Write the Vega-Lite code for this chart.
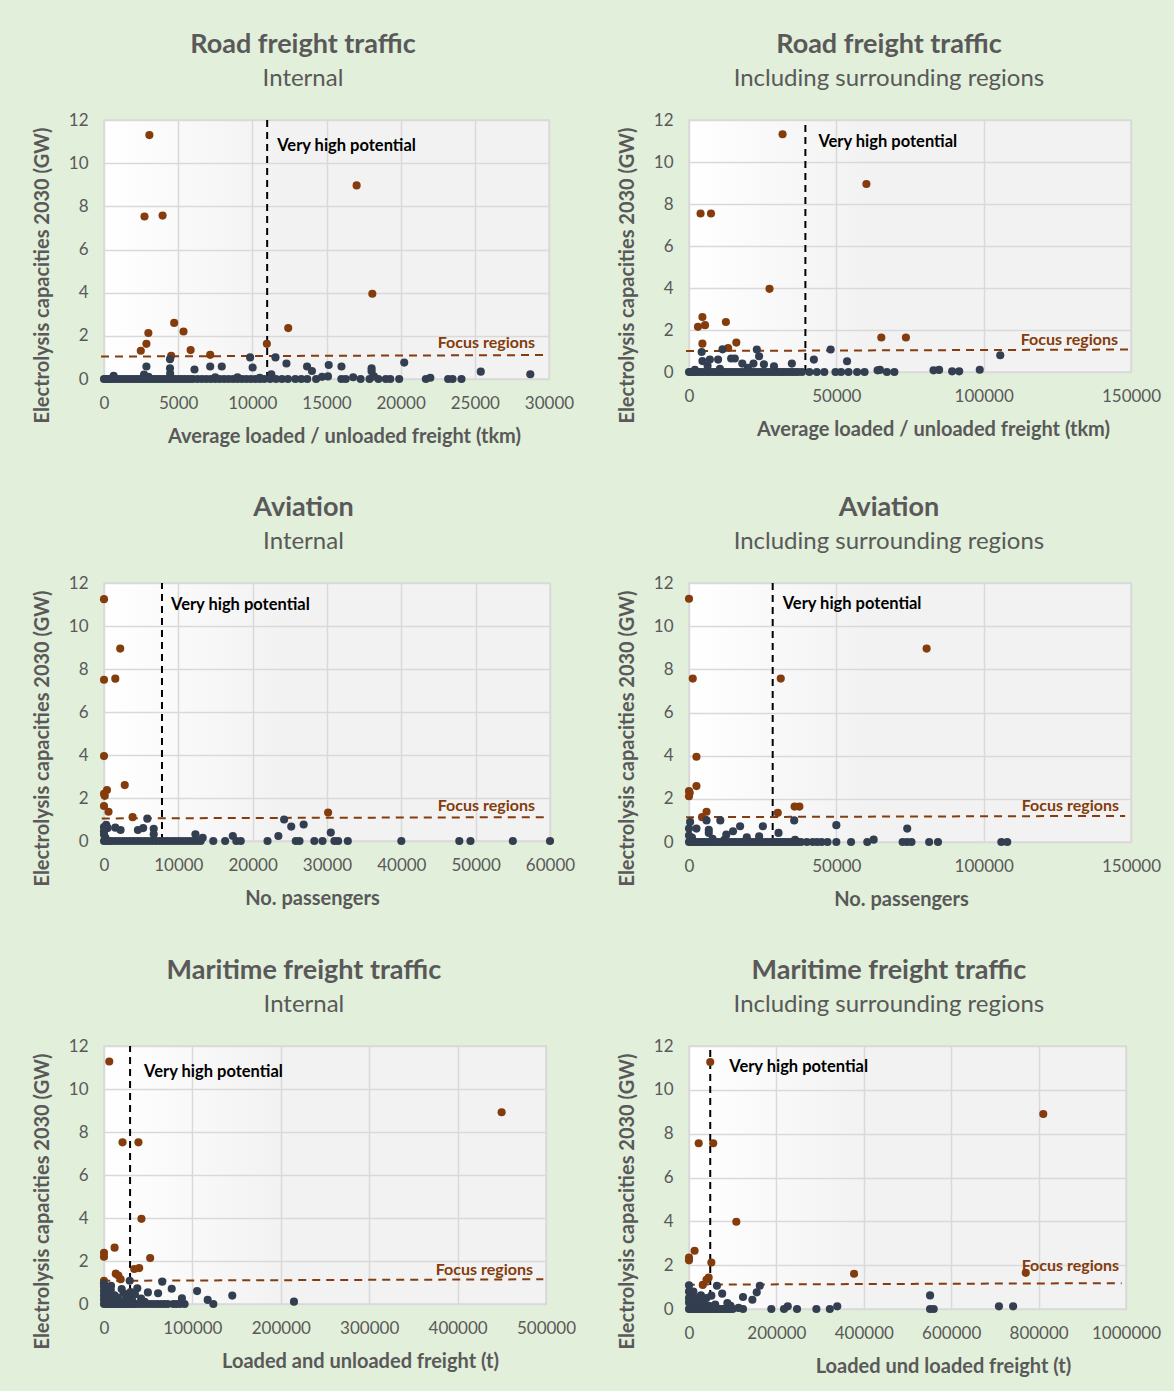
{
"$schema": "https://vega.github.io/schema/vega-lite/v6.json",
"background": "#e2efda",
"padding": {"left": 31, "top": 30, "right": 13, "bottom": 14},
"bounds": "flush",
"columns": 2,
"spacing": {"row": 204, "column": 139},
"datasets": {
"p1": [
{"x":3060,"y":11.3,"g":"f"},{"x":2730,"y":7.53,"g":"f"},{"x":3950,"y":7.57,"g":"f"},{"x":17030,"y":8.97,"g":"f"},{"x":18090,"y":3.95,"g":"f"},{"x":4730,"y":2.6,"g":"f"},{"x":5360,"y":2.2,"g":"f"},{"x":2990,"y":2.13,"g":"f"},{"x":2860,"y":1.63,"g":"f"},{"x":2480,"y":1.31,"g":"f"},{"x":5840,"y":1.34,"g":"f"},{"x":7160,"y":1.12,"g":"f"},{"x":12420,"y":2.36,"g":"f"},{"x":10980,"y":1.63,"g":"f"},{"x":4530,"y":1.08,"g":"f"},
{"x":2860,"y":0.58,"g":"o"},{"x":4450,"y":0.92,"g":"o"},{"x":4450,"y":0.5,"g":"o"},{"x":6100,"y":0.44,"g":"o"},{"x":7160,"y":0.58,"g":"o"},{"x":7940,"y":0.58,"g":"o"},{"x":9850,"y":1.0,"g":"o"},{"x":10020,"y":0.53,"g":"o"},{"x":11280,"y":0.22,"g":"o"},{"x":11560,"y":1.0,"g":"o"},{"x":12300,"y":0.72,"g":"o"},{"x":13690,"y":0.58,"g":"o"},{"x":14020,"y":0.37,"g":"o"},{"x":15150,"y":0.65,"g":"o"},{"x":16010,"y":0.58,"g":"o"},{"x":18040,"y":0.5,"g":"o"},{"x":18040,"y":0.36,"g":"o"},{"x":20240,"y":0.76,"g":"o"},{"x":25400,"y":0.34,"g":"o"},{"x":28740,"y":0.22,"g":"o"},{"x":650,"y":0.15,"g":"o"},{"x":2700,"y":0.2,"g":"o"},{"x":4460,"y":0.25,"g":"o"},
{"x":0,"y":0,"g":"o"},{"x":150,"y":0,"g":"o"},{"x":300,"y":0,"g":"o"},{"x":450,"y":0,"g":"o"},{"x":600,"y":0,"g":"o"},{"x":800,"y":0,"g":"o"},{"x":1000,"y":0,"g":"o"},{"x":1200,"y":0,"g":"o"},{"x":1400,"y":0,"g":"o"},{"x":1600,"y":0,"g":"o"},{"x":1800,"y":0,"g":"o"},{"x":2000,"y":0,"g":"o"},{"x":2200,"y":0,"g":"o"},{"x":2400,"y":0,"g":"o"},{"x":2600,"y":0,"g":"o"},{"x":2800,"y":0,"g":"o"},{"x":3000,"y":0,"g":"o"},{"x":3200,"y":0,"g":"o"},{"x":3400,"y":0,"g":"o"},{"x":3600,"y":0,"g":"o"},{"x":3800,"y":0,"g":"o"},{"x":4000,"y":0,"g":"o"},{"x":4200,"y":0,"g":"o"},{"x":4400,"y":0,"g":"o"},{"x":4600,"y":0,"g":"o"},{"x":4800,"y":0,"g":"o"},{"x":5000,"y":0,"g":"o"},{"x":5200,"y":0,"g":"o"},{"x":5400,"y":0,"g":"o"},{"x":5600,"y":0,"g":"o"},{"x":5800,"y":0,"g":"o"},{"x":6000,"y":0,"g":"o"},{"x":6300,"y":0,"g":"o"},{"x":6600,"y":0,"g":"o"},{"x":6900,"y":0,"g":"o"},{"x":7200,"y":0,"g":"o"},{"x":7500,"y":0,"g":"o"},{"x":7800,"y":0,"g":"o"},{"x":8100,"y":0,"g":"o"},{"x":8400,"y":0,"g":"o"},{"x":8700,"y":0,"g":"o"},{"x":9000,"y":0,"g":"o"},{"x":9300,"y":0,"g":"o"},{"x":9600,"y":0,"g":"o"},{"x":9900,"y":0,"g":"o"},{"x":10200,"y":0,"g":"o"},{"x":10500,"y":0,"g":"o"},{"x":10800,"y":0,"g":"o"},{"x":11200,"y":0,"g":"o"},{"x":11600,"y":0,"g":"o"},{"x":12000,"y":0,"g":"o"},{"x":12400,"y":0,"g":"o"},{"x":12900,"y":0,"g":"o"},{"x":13300,"y":0,"g":"o"},{"x":13700,"y":0,"g":"o"},{"x":14300,"y":0,"g":"o"},{"x":16000,"y":0,"g":"o"},{"x":16300,"y":0,"g":"o"},{"x":17300,"y":0,"g":"o"},{"x":17900,"y":0,"g":"o"},{"x":18500,"y":0,"g":"o"},{"x":19000,"y":0,"g":"o"},{"x":19300,"y":0,"g":"o"},{"x":19900,"y":0,"g":"o"},{"x":21700,"y":0,"g":"o"},{"x":23200,"y":0,"g":"o"},{"x":23500,"y":0,"g":"o"},{"x":24100,"y":0,"g":"o"},
{"x":3000,"y":0.1,"g":"o"},{"x":7500,"y":0.08,"g":"o"},{"x":9000,"y":0.08,"g":"o"},{"x":14700,"y":0.1,"g":"o"},{"x":15100,"y":0.12,"g":"o"},{"x":16800,"y":0.08,"g":"o"},{"x":18200,"y":0.12,"g":"o"},{"x":22000,"y":0.06,"g":"o"},{"x":10500,"y":0.05,"g":"o"}
],
"p2": [
{"x":31750,"y":11.32,"g":"f"},{"x":60210,"y":8.95,"g":"f"},{"x":3920,"y":7.55,"g":"f"},{"x":7460,"y":7.55,"g":"f"},{"x":27320,"y":3.96,"g":"f"},{"x":4550,"y":2.62,"g":"f"},{"x":3040,"y":2.15,"g":"f"},{"x":5440,"y":2.23,"g":"f"},{"x":12520,"y":2.38,"g":"f"},{"x":4550,"y":1.35,"g":"f"},{"x":16060,"y":1.4,"g":"f"},{"x":13280,"y":1.14,"g":"f"},{"x":65270,"y":1.64,"g":"f"},{"x":73620,"y":1.64,"g":"f"},
{"x":4300,"y":0.95,"g":"o"},{"x":11380,"y":1.08,"g":"o"},{"x":23020,"y":1.07,"g":"o"},{"x":48070,"y":1.07,"g":"o"},{"x":4550,"y":0.52,"g":"o"},{"x":7080,"y":0.59,"g":"o"},{"x":9870,"y":0.59,"g":"o"},{"x":14300,"y":0.64,"g":"o"},{"x":15560,"y":0.64,"g":"o"},{"x":18090,"y":0.4,"g":"o"},{"x":23780,"y":0.75,"g":"o"},{"x":21880,"y":0.4,"g":"o"},{"x":25430,"y":0.37,"g":"o"},{"x":28840,"y":0.27,"g":"o"},{"x":34910,"y":0.4,"g":"o"},{"x":42380,"y":0.59,"g":"o"},{"x":53640,"y":0.51,"g":"o"},{"x":105630,"y":0.8,"g":"o"},{"x":98670,"y":0.11,"g":"o"},{"x":91700,"y":0.03,"g":"o"},{"x":89300,"y":0.03,"g":"o"},{"x":84880,"y":0.1,"g":"o"},{"x":82980,"y":0.08,"g":"o"},{"x":69700,"y":0,"g":"o"},{"x":67170,"y":0,"g":"o"},{"x":64000,"y":0.08,"g":"o"},{"x":64800,"y":0.1,"g":"o"},{"x":59580,"y":0,"g":"o"},{"x":57050,"y":0,"g":"o"},{"x":54140,"y":0,"g":"o"},{"x":51610,"y":0,"g":"o"},{"x":49710,"y":0,"g":"o"},{"x":45920,"y":0,"g":"o"},{"x":43390,"y":0,"g":"o"},{"x":40860,"y":0,"g":"o"},{"x":38330,"y":0,"g":"o"},{"x":6300,"y":0.3,"g":"o"},{"x":2000,"y":0.1,"g":"o"},{"x":10500,"y":0.15,"g":"o"},{"x":20000,"y":0.2,"g":"o"},
{"x":0,"y":0,"g":"o"},{"x":500,"y":0,"g":"o"},{"x":1000,"y":0,"g":"o"},{"x":1500,"y":0,"g":"o"},{"x":2000,"y":0,"g":"o"},{"x":3000,"y":0,"g":"o"},{"x":4000,"y":0,"g":"o"},{"x":5000,"y":0,"g":"o"},{"x":6000,"y":0,"g":"o"},{"x":7000,"y":0,"g":"o"},{"x":8000,"y":0,"g":"o"},{"x":9000,"y":0,"g":"o"},{"x":10000,"y":0,"g":"o"},{"x":11000,"y":0,"g":"o"},{"x":12000,"y":0,"g":"o"},{"x":13000,"y":0,"g":"o"},{"x":14000,"y":0,"g":"o"},{"x":15000,"y":0,"g":"o"},{"x":16000,"y":0,"g":"o"},{"x":17000,"y":0,"g":"o"},{"x":18000,"y":0,"g":"o"},{"x":19000,"y":0,"g":"o"},{"x":20000,"y":0,"g":"o"},{"x":21000,"y":0,"g":"o"},{"x":22000,"y":0,"g":"o"},{"x":23000,"y":0,"g":"o"},{"x":24000,"y":0,"g":"o"},{"x":25000,"y":0,"g":"o"},{"x":26000,"y":0,"g":"o"},{"x":27000,"y":0,"g":"o"},{"x":28000,"y":0,"g":"o"},{"x":29000,"y":0,"g":"o"},{"x":30000,"y":0,"g":"o"},{"x":31000,"y":0,"g":"o"},{"x":32000,"y":0,"g":"o"},{"x":33000,"y":0,"g":"o"},{"x":34000,"y":0,"g":"o"},{"x":35000,"y":0,"g":"o"},{"x":36000,"y":0,"g":"o"},{"x":37000,"y":0,"g":"o"}
],
"p3": [
{"x":0,"y":11.25,"g":"f"},{"x":2180,"y":8.95,"g":"f"},{"x":0,"y":7.5,"g":"f"},{"x":1520,"y":7.55,"g":"f"},{"x":0,"y":3.95,"g":"f"},{"x":2790,"y":2.6,"g":"f"},{"x":400,"y":2.37,"g":"f"},{"x":0,"y":2.2,"g":"f"},{"x":100,"y":2.1,"g":"f"},{"x":0,"y":1.63,"g":"f"},{"x":610,"y":1.36,"g":"f"},{"x":3850,"y":1.11,"g":"f"},{"x":30150,"y":1.32,"g":"f"},
{"x":5830,"y":1.04,"g":"o"},{"x":24230,"y":1.0,"g":"o"},{"x":300,"y":0.75,"g":"o"},{"x":0,"y":0.65,"g":"o"},{"x":500,"y":0.6,"g":"o"},{"x":1520,"y":0.62,"g":"o"},{"x":2230,"y":0.51,"g":"o"},{"x":4560,"y":0.51,"g":"o"},{"x":5270,"y":0.6,"g":"o"},{"x":6690,"y":0.57,"g":"o"},{"x":6690,"y":0.31,"g":"o"},{"x":12300,"y":0.31,"g":"o"},{"x":13280,"y":0.15,"g":"o"},{"x":17330,"y":0.23,"g":"o"},{"x":23460,"y":0.23,"g":"o"},{"x":25190,"y":0.67,"g":"o"},{"x":26860,"y":0.77,"g":"o"},{"x":30510,"y":0.39,"g":"o"},{"x":0,"y":0.3,"g":"o"},{"x":0,"y":0.45,"g":"o"},{"x":200,"y":0.15,"g":"o"},
{"x":0,"y":0,"g":"o"},{"x":300,"y":0,"g":"o"},{"x":600,"y":0,"g":"o"},{"x":1000,"y":0,"g":"o"},{"x":1500,"y":0,"g":"o"},{"x":2000,"y":0,"g":"o"},{"x":2500,"y":0,"g":"o"},{"x":3000,"y":0,"g":"o"},{"x":3500,"y":0,"g":"o"},{"x":4000,"y":0,"g":"o"},{"x":4500,"y":0,"g":"o"},{"x":5000,"y":0,"g":"o"},{"x":5500,"y":0,"g":"o"},{"x":6000,"y":0,"g":"o"},{"x":6500,"y":0,"g":"o"},{"x":7000,"y":0,"g":"o"},{"x":7500,"y":0,"g":"o"},{"x":8000,"y":0,"g":"o"},{"x":8500,"y":0,"g":"o"},{"x":9000,"y":0,"g":"o"},{"x":9500,"y":0,"g":"o"},{"x":10000,"y":0,"g":"o"},{"x":10500,"y":0,"g":"o"},{"x":11000,"y":0,"g":"o"},{"x":11500,"y":0,"g":"o"},{"x":12000,"y":0,"g":"o"},{"x":12500,"y":0,"g":"o"},{"x":13000,"y":0,"g":"o"},{"x":14700,"y":0,"g":"o"},{"x":16300,"y":0,"g":"o"},{"x":17800,"y":0,"g":"o"},{"x":18400,"y":0,"g":"o"},{"x":22000,"y":0,"g":"o"},{"x":25800,"y":0,"g":"o"},{"x":26300,"y":0,"g":"o"},{"x":28300,"y":0,"g":"o"},{"x":29400,"y":0,"g":"o"},{"x":31000,"y":0,"g":"o"},{"x":31500,"y":0,"g":"o"},{"x":32800,"y":0,"g":"o"},{"x":40000,"y":0,"g":"o"},{"x":47800,"y":0,"g":"o"},{"x":49300,"y":0,"g":"o"},{"x":55000,"y":0,"g":"o"},{"x":60000,"y":0,"g":"o"}
],
"p4": [
{"x":0,"y":11.27,"g":"f"},{"x":80640,"y":8.96,"g":"f"},{"x":1270,"y":7.57,"g":"f"},{"x":31140,"y":7.57,"g":"f"},{"x":2530,"y":3.95,"g":"f"},{"x":2530,"y":2.59,"g":"f"},{"x":0,"y":2.36,"g":"f"},{"x":0,"y":2.12,"g":"f"},{"x":250,"y":2.28,"g":"f"},{"x":5950,"y":1.4,"g":"f"},{"x":4430,"y":1.15,"g":"f"},{"x":30130,"y":1.35,"g":"f"},{"x":35830,"y":1.64,"g":"f"},{"x":37470,"y":1.64,"g":"f"},
{"x":380,"y":0.93,"g":"o"},{"x":5950,"y":1.0,"g":"o"},{"x":10630,"y":1.0,"g":"o"},{"x":35700,"y":1.0,"g":"o"},{"x":50000,"y":0.78,"g":"o"},{"x":74060,"y":0.62,"g":"o"},{"x":25070,"y":0.73,"g":"o"},{"x":17340,"y":0.73,"g":"o"},{"x":14940,"y":0.5,"g":"o"},{"x":12660,"y":0.34,"g":"o"},{"x":0,"y":0.62,"g":"o"},{"x":2530,"y":0.62,"g":"o"},{"x":6710,"y":0.57,"g":"o"},{"x":6710,"y":0.42,"g":"o"},{"x":30380,"y":0.42,"g":"o"},{"x":23800,"y":0.26,"g":"o"},{"x":19620,"y":0.22,"g":"o"},{"x":62670,"y":0.11,"g":"o"},{"x":0,"y":0.3,"g":"o"},{"x":1000,"y":0.2,"g":"o"},{"x":8000,"y":0.15,"g":"o"},{"x":12000,"y":0.1,"g":"o"},{"x":36000,"y":0.1,"g":"o"},
{"x":0,"y":0,"g":"o"},{"x":700,"y":0,"g":"o"},{"x":1500,"y":0,"g":"o"},{"x":2200,"y":0,"g":"o"},{"x":3000,"y":0,"g":"o"},{"x":3800,"y":0,"g":"o"},{"x":4500,"y":0,"g":"o"},{"x":5300,"y":0,"g":"o"},{"x":6000,"y":0,"g":"o"},{"x":7000,"y":0,"g":"o"},{"x":8000,"y":0,"g":"o"},{"x":9000,"y":0,"g":"o"},{"x":10000,"y":0,"g":"o"},{"x":11000,"y":0,"g":"o"},{"x":12000,"y":0,"g":"o"},{"x":13000,"y":0,"g":"o"},{"x":14000,"y":0,"g":"o"},{"x":15000,"y":0,"g":"o"},{"x":16000,"y":0,"g":"o"},{"x":17000,"y":0,"g":"o"},{"x":18000,"y":0,"g":"o"},{"x":19000,"y":0,"g":"o"},{"x":20000,"y":0,"g":"o"},{"x":21000,"y":0,"g":"o"},{"x":22000,"y":0,"g":"o"},{"x":23000,"y":0,"g":"o"},{"x":24000,"y":0,"g":"o"},{"x":25000,"y":0,"g":"o"},{"x":26000,"y":0,"g":"o"},{"x":27000,"y":0,"g":"o"},{"x":28000,"y":0,"g":"o"},{"x":29000,"y":0,"g":"o"},{"x":30000,"y":0,"g":"o"},{"x":31000,"y":0,"g":"o"},{"x":32000,"y":0,"g":"o"},{"x":33000,"y":0,"g":"o"},{"x":34000,"y":0,"g":"o"},{"x":35000,"y":0,"g":"o"},{"x":36000,"y":0,"g":"o"},{"x":37000,"y":0,"g":"o"},{"x":38000,"y":0,"g":"o"},{"x":40000,"y":0,"g":"o"},{"x":42000,"y":0,"g":"o"},{"x":43500,"y":0,"g":"o"},{"x":45000,"y":0,"g":"o"},{"x":47000,"y":0,"g":"o"},{"x":50000,"y":0,"g":"o"},{"x":55000,"y":0,"g":"o"},{"x":60500,"y":0,"g":"o"},{"x":72500,"y":0,"g":"o"},{"x":74000,"y":0,"g":"o"},{"x":75500,"y":0,"g":"o"},{"x":81500,"y":0,"g":"o"},{"x":84500,"y":0,"g":"o"},{"x":106000,"y":0,"g":"o"},{"x":108000,"y":0,"g":"o"}
],
"p5": [
{"x":5990,"y":11.28,"g":"f"},{"x":449800,"y":8.92,"g":"f"},{"x":20970,"y":7.52,"g":"f"},{"x":38950,"y":7.52,"g":"f"},{"x":42370,"y":3.96,"g":"f"},{"x":11980,"y":2.62,"g":"f"},{"x":0,"y":2.38,"g":"f"},{"x":0,"y":2.2,"g":"f"},{"x":52220,"y":2.14,"g":"f"},{"x":34240,"y":1.63,"g":"f"},{"x":39800,"y":1.67,"g":"f"},{"x":13270,"y":1.41,"g":"f"},{"x":16260,"y":1.32,"g":"f"},{"x":18830,"y":1.15,"g":"f"},{"x":0,"y":1.08,"g":"f"},
{"x":29100,"y":1.08,"g":"o"},{"x":65900,"y":1.04,"g":"o"},{"x":0,"y":0.96,"g":"o"},{"x":7700,"y":0.65,"g":"o"},{"x":37660,"y":0.73,"g":"o"},{"x":49650,"y":0.54,"g":"o"},{"x":61200,"y":0.5,"g":"o"},{"x":76600,"y":0.71,"g":"o"},{"x":105300,"y":0.6,"g":"o"},{"x":22260,"y":0.5,"g":"o"},{"x":88170,"y":0.26,"g":"o"},{"x":117300,"y":0.19,"g":"o"},{"x":145100,"y":0.39,"g":"o"},{"x":214900,"y":0.11,"g":"o"},{"x":123700,"y":0,"g":"o"},{"x":91160,"y":0,"g":"o"},{"x":78300,"y":0,"g":"o"},
{"x":0,"y":0.2,"g":"o"},{"x":0,"y":0.4,"g":"o"},{"x":0,"y":0.6,"g":"o"},{"x":0,"y":0.8,"g":"o"},{"x":3000,"y":0.3,"g":"o"},{"x":5000,"y":0.5,"g":"o"},{"x":10000,"y":0.2,"g":"o"},{"x":12000,"y":0.4,"g":"o"},{"x":15000,"y":0.3,"g":"o"},{"x":18000,"y":0.15,"g":"o"},{"x":25000,"y":0.2,"g":"o"},{"x":28000,"y":0.35,"g":"o"},{"x":32000,"y":0.15,"g":"o"},{"x":35000,"y":0.45,"g":"o"},{"x":42000,"y":0.25,"g":"o"},{"x":46000,"y":0.1,"g":"o"},{"x":8000,"y":0.85,"g":"o"},{"x":20000,"y":0.7,"g":"o"},{"x":30000,"y":0.55,"g":"o"},
{"x":0,"y":0,"g":"o"},{"x":2000,"y":0,"g":"o"},{"x":4000,"y":0,"g":"o"},{"x":6000,"y":0,"g":"o"},{"x":8000,"y":0,"g":"o"},{"x":10000,"y":0,"g":"o"},{"x":12000,"y":0,"g":"o"},{"x":14000,"y":0,"g":"o"},{"x":16000,"y":0,"g":"o"},{"x":18000,"y":0,"g":"o"},{"x":20000,"y":0,"g":"o"},{"x":22000,"y":0,"g":"o"},{"x":24000,"y":0,"g":"o"},{"x":26000,"y":0,"g":"o"},{"x":28000,"y":0,"g":"o"},{"x":30000,"y":0,"g":"o"},{"x":33000,"y":0,"g":"o"},{"x":36000,"y":0,"g":"o"},{"x":40000,"y":0,"g":"o"},{"x":44000,"y":0,"g":"o"},{"x":48000,"y":0,"g":"o"},{"x":52000,"y":0,"g":"o"},{"x":56000,"y":0,"g":"o"},{"x":60000,"y":0,"g":"o"},{"x":64000,"y":0,"g":"o"},{"x":68000,"y":0,"g":"o"},{"x":72000,"y":0,"g":"o"},{"x":82000,"y":0,"g":"o"},{"x":86000,"y":0,"g":"o"}
],
"p6": [
{"x":48600,"y":11.27,"g":"f"},{"x":810700,"y":8.9,"g":"f"},{"x":22170,"y":7.56,"g":"f"},{"x":55400,"y":7.56,"g":"f"},{"x":108300,"y":3.98,"g":"f"},{"x":12800,"y":2.66,"g":"f"},{"x":0,"y":2.35,"g":"f"},{"x":0,"y":2.22,"g":"f"},{"x":51150,"y":2.12,"g":"f"},{"x":377700,"y":1.61,"g":"f"},{"x":770700,"y":1.65,"g":"f"},{"x":31500,"y":1.1,"g":"f"},{"x":40000,"y":1.33,"g":"f"},{"x":45000,"y":1.44,"g":"f"},
{"x":0,"y":1.08,"g":"o"},{"x":63900,"y":1.06,"g":"o"},{"x":162000,"y":1.06,"g":"o"},{"x":155000,"y":0.76,"g":"o"},{"x":145000,"y":0.42,"g":"o"},{"x":123600,"y":0.55,"g":"o"},{"x":75900,"y":0.7,"g":"o"},{"x":51150,"y":0.61,"g":"o"},{"x":27300,"y":0.62,"g":"o"},{"x":5000,"y":0.61,"g":"o"},{"x":87800,"y":0.27,"g":"o"},{"x":551600,"y":0.62,"g":"o"},{"x":551600,"y":0,"g":"o"},{"x":560000,"y":0,"g":"o"},{"x":709300,"y":0.12,"g":"o"},{"x":741700,"y":0.12,"g":"o"},{"x":339300,"y":0.12,"g":"o"},{"x":322300,"y":0,"g":"o"},{"x":291500,"y":0,"g":"o"},{"x":247200,"y":0,"g":"o"},{"x":226000,"y":0.12,"g":"o"},{"x":217400,"y":0,"g":"o"},{"x":188400,"y":0,"g":"o"},{"x":123600,"y":0,"g":"o"},{"x":113400,"y":0.05,"g":"o"},
{"x":0,"y":0.3,"g":"o"},{"x":0,"y":0.5,"g":"o"},{"x":0,"y":0.8,"g":"o"},{"x":8000,"y":0.4,"g":"o"},{"x":12000,"y":0.25,"g":"o"},{"x":15000,"y":0.5,"g":"o"},{"x":20000,"y":0.3,"g":"o"},{"x":32000,"y":0.4,"g":"o"},{"x":36000,"y":0.2,"g":"o"},{"x":40000,"y":0.5,"g":"o"},{"x":45000,"y":0.15,"g":"o"},{"x":60000,"y":0.2,"g":"o"},{"x":95000,"y":0.15,"g":"o"},{"x":10000,"y":0.8,"g":"o"},{"x":25000,"y":0.55,"g":"o"},
{"x":0,"y":0,"g":"o"},{"x":3000,"y":0,"g":"o"},{"x":6000,"y":0,"g":"o"},{"x":9000,"y":0,"g":"o"},{"x":12000,"y":0,"g":"o"},{"x":15000,"y":0,"g":"o"},{"x":18000,"y":0,"g":"o"},{"x":21000,"y":0,"g":"o"},{"x":24000,"y":0,"g":"o"},{"x":27000,"y":0,"g":"o"},{"x":30000,"y":0,"g":"o"},{"x":33000,"y":0,"g":"o"},{"x":36000,"y":0,"g":"o"},{"x":40000,"y":0,"g":"o"},{"x":44000,"y":0,"g":"o"},{"x":48000,"y":0,"g":"o"},{"x":52000,"y":0,"g":"o"},{"x":56000,"y":0,"g":"o"},{"x":60000,"y":0,"g":"o"},{"x":65000,"y":0,"g":"o"},{"x":70000,"y":0,"g":"o"},{"x":75000,"y":0,"g":"o"},{"x":80000,"y":0,"g":"o"},{"x":85000,"y":0,"g":"o"},{"x":90000,"y":0,"g":"o"},{"x":95000,"y":0,"g":"o"},{"x":100000,"y":0,"g":"o"}
]
},
"concat": [
{"width": 445, "height": 259, "title": {"text": "Road freight traffic", "subtitle": "Internal"},
 "layer": [
  {"data": {"values": [{}]}, "mark": {"type": "rule", "color": "#000000", "strokeWidth": 2, "strokeDash": [7, 5]}, "encoding": {"x": {"datum": 11000, "type": "quantitative"}, "y": {"datum": 0, "type": "quantitative"}, "y2": {"datum": 12}}},
  {"data": {"values": [{}]}, "mark": {"type": "rule", "color": "#843c0c", "strokeWidth": 2, "strokeDash": [8, 6]}, "encoding": {"x": {"datum": -200, "type": "quantitative"}, "x2": {"datum": 29700}, "y": {"datum": 1.04, "type": "quantitative"}, "y2": {"datum": 1.11}}},
  {"data": {"values": [{}]}, "mark": {"type": "text", "text": "Very high potential", "align": "left", "baseline": "middle", "dx": 10, "fontSize": 16.5, "fontWeight": "bold", "color": "#000000"}, "encoding": {"x": {"datum": 11000, "type": "quantitative"}, "y": {"datum": 10.8, "type": "quantitative"}}},
  {"data": {"values": [{}]}, "mark": {"type": "text", "text": "Focus regions", "align": "right", "baseline": "middle", "dx": -14, "fontSize": 16, "fontWeight": "bold", "color": "#843c0c"}, "encoding": {"x": {"datum": 30000, "type": "quantitative"}, "y": {"datum": 1.67, "type": "quantitative"}}},
  {"data": {"name": "p1"}, "mark": {"type": "circle", "size": 66, "opacity": 1},
   "encoding": {
    "x": {"field": "x", "type": "quantitative", "scale": {"domain": [0, 30000], "nice": false}, "axis": {"title": "Average loaded / unloaded freight (tkm)", "titleX": 240, "values": [0, 5000, 10000, 15000, 20000, 25000, 30000], "format": "d"}},
    "y": {"field": "y", "type": "quantitative", "scale": {"domain": [0, 12], "nice": false}, "axis": {"title": "Electrolysis capacities 2030 (GW)", "values": [0, 2, 4, 6, 8, 10, 12], "format": "d"}},
    "color": {"field": "g", "type": "nominal", "scale": {"domain": ["f", "o"], "range": ["#843c0c", "#333f50"]}, "legend": null}}}
 ]},
{"width": 442, "height": 252, "title": {"text": "Road freight traffic", "subtitle": "Including surrounding regions"},
 "layer": [
  {"data": {"values": [{}]}, "mark": {"type": "rule", "color": "#000000", "strokeWidth": 2, "strokeDash": [7, 5]}, "encoding": {"x": {"datum": 39500, "type": "quantitative"}, "y": {"datum": 0, "type": "quantitative"}, "y2": {"datum": 12}}},
  {"data": {"values": [{}]}, "mark": {"type": "rule", "color": "#843c0c", "strokeWidth": 2, "strokeDash": [8, 6]}, "encoding": {"x": {"datum": -1000, "type": "quantitative"}, "x2": {"datum": 149000}, "y": {"datum": 1.0, "type": "quantitative"}, "y2": {"datum": 1.07}}},
  {"data": {"values": [{}]}, "mark": {"type": "text", "text": "Very high potential", "align": "left", "baseline": "middle", "dx": 13, "fontSize": 16.5, "fontWeight": "bold", "color": "#000000"}, "encoding": {"x": {"datum": 39500, "type": "quantitative"}, "y": {"datum": 10.95, "type": "quantitative"}}},
  {"data": {"values": [{}]}, "mark": {"type": "text", "text": "Focus regions", "align": "right", "baseline": "middle", "dx": -13, "fontSize": 16, "fontWeight": "bold", "color": "#843c0c"}, "encoding": {"x": {"datum": 150000, "type": "quantitative"}, "y": {"datum": 1.52, "type": "quantitative"}}},
  {"data": {"name": "p2"}, "mark": {"type": "circle", "size": 66, "opacity": 1},
   "encoding": {
    "x": {"field": "x", "type": "quantitative", "scale": {"domain": [0, 150000], "nice": false}, "axis": {"title": "Average loaded / unloaded freight (tkm)", "titleX": 244, "values": [0, 50000, 100000, 150000], "format": "d"}},
    "y": {"field": "y", "type": "quantitative", "scale": {"domain": [0, 12], "nice": false}, "axis": {"title": "Electrolysis capacities 2030 (GW)", "values": [0, 2, 4, 6, 8, 10, 12], "format": "d"}},
    "color": {"field": "g", "type": "nominal", "scale": {"domain": ["f", "o"], "range": ["#843c0c", "#333f50"]}, "legend": null}}}
 ]},
{"width": 446, "height": 258, "title": {"text": "Aviation", "subtitle": "Internal"},
 "layer": [
  {"data": {"values": [{}]}, "mark": {"type": "rule", "color": "#000000", "strokeWidth": 2, "strokeDash": [7, 5]}, "encoding": {"x": {"datum": 7800, "type": "quantitative"}, "y": {"datum": 0, "type": "quantitative"}, "y2": {"datum": 12}}},
  {"data": {"values": [{}]}, "mark": {"type": "rule", "color": "#843c0c", "strokeWidth": 2, "strokeDash": [8, 6]}, "encoding": {"x": {"datum": -300, "type": "quantitative"}, "x2": {"datum": 59600}, "y": {"datum": 1.05, "type": "quantitative"}, "y2": {"datum": 1.11}}},
  {"data": {"values": [{}]}, "mark": {"type": "text", "text": "Very high potential", "align": "left", "baseline": "middle", "dx": 9, "fontSize": 16.5, "fontWeight": "bold", "color": "#000000"}, "encoding": {"x": {"datum": 7800, "type": "quantitative"}, "y": {"datum": 11.0, "type": "quantitative"}}},
  {"data": {"values": [{}]}, "mark": {"type": "text", "text": "Focus regions", "align": "right", "baseline": "middle", "dx": -15, "fontSize": 16, "fontWeight": "bold", "color": "#843c0c"}, "encoding": {"x": {"datum": 60000, "type": "quantitative"}, "y": {"datum": 1.63, "type": "quantitative"}}},
  {"data": {"name": "p3"}, "mark": {"type": "circle", "size": 66, "opacity": 1},
   "encoding": {
    "x": {"field": "x", "type": "quantitative", "scale": {"domain": [0, 60000], "nice": false}, "axis": {"title": "No. passengers", "titleX": 208, "values": [0, 10000, 20000, 30000, 40000, 50000, 60000], "format": "d"}},
    "y": {"field": "y", "type": "quantitative", "scale": {"domain": [0, 12], "nice": false}, "axis": {"title": "Electrolysis capacities 2030 (GW)", "values": [0, 2, 4, 6, 8, 10, 12], "format": "d"}},
    "color": {"field": "g", "type": "nominal", "scale": {"domain": ["f", "o"], "range": ["#843c0c", "#333f50"]}, "legend": null}}}
 ]},
{"width": 442, "height": 259, "title": {"text": "Aviation", "subtitle": "Including surrounding regions"},
 "layer": [
  {"data": {"values": [{}]}, "mark": {"type": "rule", "color": "#000000", "strokeWidth": 2, "strokeDash": [7, 5]}, "encoding": {"x": {"datum": 28400, "type": "quantitative"}, "y": {"datum": 0, "type": "quantitative"}, "y2": {"datum": 12}}},
  {"data": {"values": [{}]}, "mark": {"type": "rule", "color": "#843c0c", "strokeWidth": 2, "strokeDash": [8, 6]}, "encoding": {"x": {"datum": -1000, "type": "quantitative"}, "x2": {"datum": 148000}, "y": {"datum": 1.15, "type": "quantitative"}, "y2": {"datum": 1.21}}},
  {"data": {"values": [{}]}, "mark": {"type": "text", "text": "Very high potential", "align": "left", "baseline": "middle", "dx": 10, "fontSize": 16.5, "fontWeight": "bold", "color": "#000000"}, "encoding": {"x": {"datum": 28400, "type": "quantitative"}, "y": {"datum": 11.05, "type": "quantitative"}}},
  {"data": {"values": [{}]}, "mark": {"type": "text", "text": "Focus regions", "align": "right", "baseline": "middle", "dx": -12, "fontSize": 16, "fontWeight": "bold", "color": "#843c0c"}, "encoding": {"x": {"datum": 150000, "type": "quantitative"}, "y": {"datum": 1.67, "type": "quantitative"}}},
  {"data": {"name": "p4"}, "mark": {"type": "circle", "size": 66, "opacity": 1},
   "encoding": {
    "x": {"field": "x", "type": "quantitative", "scale": {"domain": [0, 150000], "nice": false}, "axis": {"title": "No. passengers", "titleX": 212, "values": [0, 50000, 100000, 150000], "format": "d"}},
    "y": {"field": "y", "type": "quantitative", "scale": {"domain": [0, 12], "nice": false}, "axis": {"title": "Electrolysis capacities 2030 (GW)", "values": [0, 2, 4, 6, 8, 10, 12], "format": "d"}},
    "color": {"field": "g", "type": "nominal", "scale": {"domain": ["f", "o"], "range": ["#843c0c", "#333f50"]}, "legend": null}}}
 ]},
{"width": 442, "height": 258, "title": {"text": "Maritime freight traffic", "subtitle": "Internal"},
 "layer": [
  {"data": {"values": [{}]}, "mark": {"type": "rule", "color": "#000000", "strokeWidth": 2, "strokeDash": [7, 5]}, "encoding": {"x": {"datum": 29500, "type": "quantitative"}, "y": {"datum": 0, "type": "quantitative"}, "y2": {"datum": 12}}},
  {"data": {"values": [{}]}, "mark": {"type": "rule", "color": "#843c0c", "strokeWidth": 2, "strokeDash": [8, 6]}, "encoding": {"x": {"datum": -2000, "type": "quantitative"}, "x2": {"datum": 497000}, "y": {"datum": 1.08, "type": "quantitative"}, "y2": {"datum": 1.15}}},
  {"data": {"values": [{}]}, "mark": {"type": "text", "text": "Very high potential", "align": "left", "baseline": "middle", "dx": 14, "fontSize": 16.5, "fontWeight": "bold", "color": "#000000"}, "encoding": {"x": {"datum": 29500, "type": "quantitative"}, "y": {"datum": 10.8, "type": "quantitative"}}},
  {"data": {"values": [{}]}, "mark": {"type": "text", "text": "Focus regions", "align": "right", "baseline": "middle", "dx": -13, "fontSize": 16, "fontWeight": "bold", "color": "#843c0c"}, "encoding": {"x": {"datum": 500000, "type": "quantitative"}, "y": {"datum": 1.58, "type": "quantitative"}}},
  {"data": {"name": "p5"}, "mark": {"type": "circle", "size": 66, "opacity": 1},
   "encoding": {
    "x": {"field": "x", "type": "quantitative", "scale": {"domain": [0, 500000], "nice": false}, "axis": {"title": "Loaded and unloaded freight (t)", "titleX": 256, "values": [0, 100000, 200000, 300000, 400000, 500000], "format": "d"}},
    "y": {"field": "y", "type": "quantitative", "scale": {"domain": [0, 12], "nice": false}, "axis": {"title": "Electrolysis capacities 2030 (GW)", "values": [0, 2, 4, 6, 8, 10, 12], "format": "d"}},
    "color": {"field": "g", "type": "nominal", "scale": {"domain": ["f", "o"], "range": ["#843c0c", "#333f50"]}, "legend": null}}}
 ]},
{"width": 437, "height": 263, "title": {"text": "Maritime freight traffic", "subtitle": "Including surrounding regions"},
 "layer": [
  {"data": {"values": [{}]}, "mark": {"type": "rule", "color": "#000000", "strokeWidth": 2, "strokeDash": [7, 5]}, "encoding": {"x": {"datum": 48600, "type": "quantitative"}, "y": {"datum": 0, "type": "quantitative"}, "y2": {"datum": 12}}},
  {"data": {"values": [{}]}, "mark": {"type": "rule", "color": "#843c0c", "strokeWidth": 2, "strokeDash": [8, 6]}, "encoding": {"x": {"datum": -5000, "type": "quantitative"}, "x2": {"datum": 990000}, "y": {"datum": 1.11, "type": "quantitative"}, "y2": {"datum": 1.18}}},
  {"data": {"values": [{}]}, "mark": {"type": "text", "text": "Very high potential", "align": "left", "baseline": "middle", "dx": 19, "fontSize": 16.5, "fontWeight": "bold", "color": "#000000"}, "encoding": {"x": {"datum": 48600, "type": "quantitative"}, "y": {"datum": 11.05, "type": "quantitative"}}},
  {"data": {"values": [{}]}, "mark": {"type": "text", "text": "Focus regions", "align": "right", "baseline": "middle", "dx": -7, "fontSize": 16, "fontWeight": "bold", "color": "#843c0c"}, "encoding": {"x": {"datum": 1000000, "type": "quantitative"}, "y": {"datum": 1.95, "type": "quantitative"}}},
  {"data": {"name": "p6"}, "mark": {"type": "circle", "size": 66, "opacity": 1},
   "encoding": {
    "x": {"field": "x", "type": "quantitative", "scale": {"domain": [0, 1000000], "nice": false}, "axis": {"title": "Loaded und loaded freight (t)", "titleX": 254, "values": [0, 200000, 400000, 600000, 800000, 1000000], "format": "d"}},
    "y": {"field": "y", "type": "quantitative", "scale": {"domain": [0, 12], "nice": false}, "axis": {"title": "Electrolysis capacities 2030 (GW)", "values": [0, 2, 4, 6, 8, 10, 12], "format": "d"}},
    "color": {"field": "g", "type": "nominal", "scale": {"domain": ["f", "o"], "range": ["#843c0c", "#333f50"]}, "legend": null}}}
 ]}
],
"config": {
 "font": "Lato",
 "view": {"fill": {"gradient": "linear", "x1": 0, "y1": 0, "x2": 1, "y2": 0, "stops": [{"offset": 0, "color": "#ffffff"}, {"offset": 0.4, "color": "#f2f2f2"}, {"offset": 1, "color": "#f2f2f2"}]}, "stroke": "#d9d9d9", "strokeWidth": 1.5},
 "axis": {"grid": true, "gridColor": "#d9d9d9", "gridWidth": 1.5, "domain": false, "ticks": false, "labelFont": "Lato", "labelFontSize": 17, "labelColor": "#595959", "titleFont": "Lato", "titleFontSize": 20, "titleFontWeight": "bold", "titleColor": "#595959", "labelFlush": false},
 "axisX": {"labelPadding": 16, "titlePadding": 15},
 "axisY": {"labelPadding": 16, "titlePadding": 16, "titleFontSize": 20, "titleY": 155},
 "title": {"font": "Lato", "fontSize": 27, "fontWeight": "bold", "color": "#595959", "subtitleFont": "Lato", "subtitleFontSize": 24, "subtitleColor": "#595959", "subtitlePadding": 8, "offset": 19, "anchor": "middle", "frame": "bounds"}
}
}
